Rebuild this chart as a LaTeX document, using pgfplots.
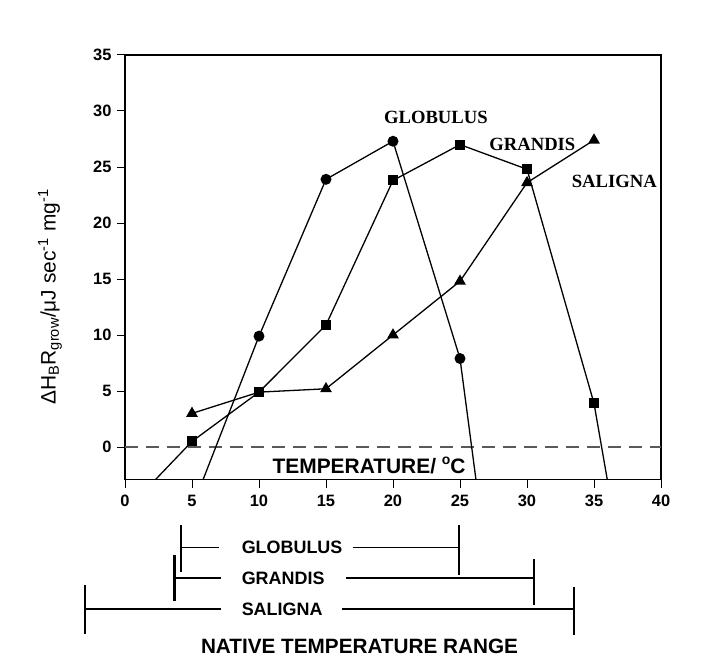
\documentclass[border=0pt]{standalone}
\usepackage{fontspec}
\setmainfont{Liberation Sans}
\newfontfamily\serifbf{Liberation Serif}
\usepackage{pgfplots}
\pgfplotsset{compat=1.18}
\begin{document}
\begin{tikzpicture}
\begin{axis}[
  at={(125bp,186.5bp)}, anchor=south west,
  scale only axis, width=536bp, height=424.5bp,
  xmin=0, xmax=40, ymin=-2.9, ymax=35,
  xtick={0,5,...,40}, ytick={0,5,...,35},
  xtick pos=bottom, ytick pos=left,
  tick align=outside, major tick length=8bp,
  axis line style={line width=1.8bp},
  every tick/.style={line width=1bp, black},
  tick label style={font=\fontsize{16.5}{16.5}\selectfont\bfseries},
  /pgf/number format/assume math mode=true,
  xticklabel style={yshift=-4bp},
  yticklabel style={xshift=-2bp},
  clip=false,
]
% zero line
\addplot[gray!70!black, line width=1.2bp, dash pattern=on 13bp off 8bp] coordinates {(0,0) (40,0)};
% Saligna
\addplot[black, line width=1.3bp, mark=triangle*, mark size=5.5bp, mark indices={1,3,4,5,6,7}]
  coordinates {(5,3.0) (10,4.9) (15,5.2) (20,10) (25,14.8) (30,23.6) (35,27.4)};
% Grandis
\addplot[black, line width=1.3bp, mark=square*, mark size=4.3bp, mark indices={2,3,4,5,6,7,8}]
  coordinates {(2.28,-2.9) (5,0.5) (10,4.9) (15,10.9) (20,23.8) (25,27.0) (30,24.8) (35,3.9) (35.99,-2.9)};
% Globulus
\addplot[black, line width=1.3bp, mark=*, mark size=4.8bp, mark indices={2,3,4,5}]
  coordinates {(5.83,-2.9) (10,9.9) (15,23.9) (20,27.3) (25,7.9) (26.19,-2.9)};

\node[font=\serifbf\bfseries\fontsize{18.7}{18.7}\selectfont] at (axis cs:23.2,29.4) {GLOBULUS};
\node[font=\serifbf\bfseries\fontsize{18.7}{18.7}\selectfont] at (axis cs:30.4,27.05) {GRANDIS};
\node[anchor=west, inner sep=0pt, font=\serifbf\bfseries\fontsize{18.7}{18.7}\selectfont] at (axis cs:33.33,23.7) {SALIGNA};

\node[anchor=base west, inner sep=0pt, font=\fontsize{21}{21}\selectfont\bfseries] at (axis cs:11.0,-2.32)
  {TEMPERATURE/ \raisebox{0.75ex}{\fontsize{14}{14}\selectfont o}C};

\node[rotate=90, font=\fontsize{21}{21}\selectfont] at (axis cs:-5.6,13.4)
  {ΔH\textsubscript{B}R\textsubscript{grow}/μJ sec\textsuperscript{-1} mg\textsuperscript{-1}};

% native temperature ranges
\draw[line width=1.2bp] (axis cs:4.2,-9.0) -- (axis cs:7.0,-9.0);
\draw[line width=1.2bp] (axis cs:17.0,-9.0) -- (axis cs:24.95,-9.0);
\draw[line width=2.2bp] (axis cs:4.2,-7.0) -- (axis cs:4.2,-11.2);
\draw[line width=2.2bp] (axis cs:24.95,-7.0) -- (axis cs:24.95,-11.4);
\node[anchor=west, inner sep=0pt, font=\fontsize{18}{18}\selectfont\bfseries] at (axis cs:8.7,-9.0) {GLOBULUS};

\draw[line width=1.2bp] (axis cs:3.7,-11.7) -- (axis cs:7.2,-11.7);
\draw[line width=1.2bp] (axis cs:16.5,-11.7) -- (axis cs:30.55,-11.7);
\draw[line width=2.2bp] (axis cs:3.7,-9.6) -- (axis cs:3.7,-13.75);
\draw[line width=2.2bp] (axis cs:30.55,-10.0) -- (axis cs:30.55,-14.1);
\node[anchor=west, inner sep=0pt, font=\fontsize{18}{18}\selectfont\bfseries] at (axis cs:8.7,-11.7) {GRANDIS};

\draw[line width=1.2bp] (axis cs:-3.0,-14.46) -- (axis cs:7.2,-14.46);
\draw[line width=1.2bp] (axis cs:16.2,-14.46) -- (axis cs:33.5,-14.46);
\draw[line width=2.2bp] (axis cs:-3.0,-12.3) -- (axis cs:-3.0,-16.7);
\draw[line width=2.2bp] (axis cs:33.5,-12.5) -- (axis cs:33.5,-16.8);
\node[anchor=west, inner sep=0pt, font=\fontsize{18}{18}\selectfont\bfseries] at (axis cs:8.7,-14.46) {SALIGNA};

\node[font=\fontsize{20.8}{20.8}\selectfont\bfseries] at (axis cs:17.5,-17.8) {NATIVE TEMPERATURE RANGE};
\end{axis}
\pgfresetboundingbox
\path (0,0) rectangle (711bp,666bp);
\end{tikzpicture}
\end{document}
